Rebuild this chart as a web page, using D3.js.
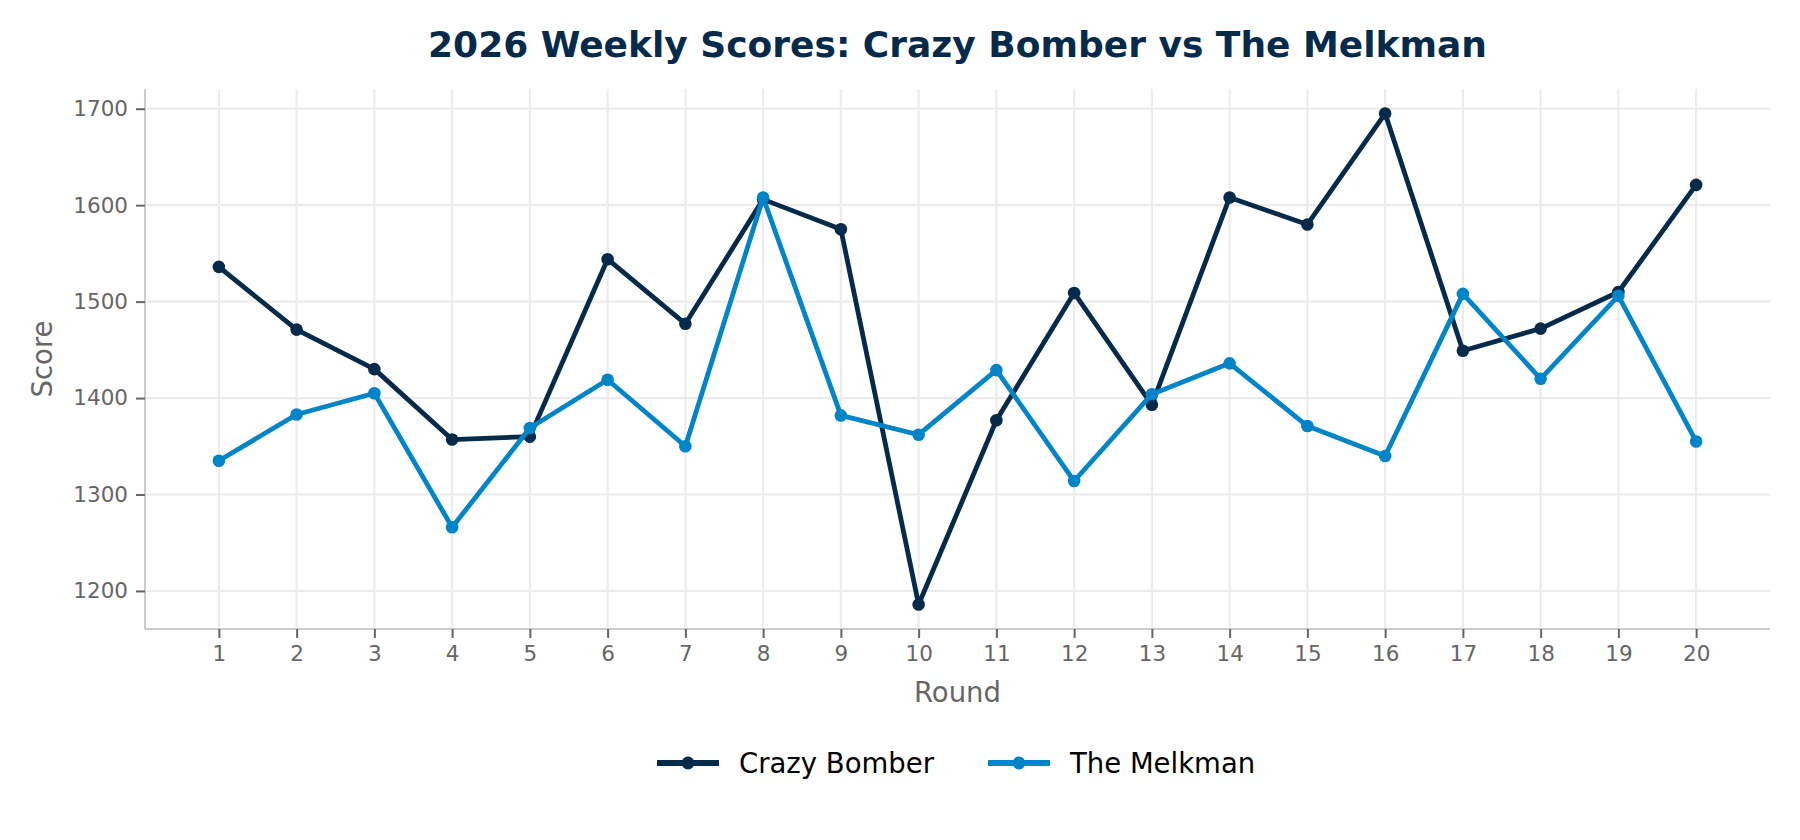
<!DOCTYPE html>
<html>
<head>
<meta charset="utf-8">
<script src="https://cdn.jsdelivr.net/npm/d3@7"></script>
<style>
  body { margin: 0; background: #fff; }
  text { font-family: "DejaVu Sans", sans-serif; }
</style>
</head>
<body>
<div id="chart"></div>
<script>
const rounds = [1,2,3,4,5,6,7,8,9,10,11,12,13,14,15,16,17,18,19,20];
const crazyBomber = [1536,1471,1430,1357,1360,1544,1477,1606,1575,1186,1377,1509,1393,1608,1580,1695,1449,1472,1510,1621];
const theMelkman = [1335,1383,1405,1266,1369,1419,1350,1608,1382,1362,1429,1314,1404,1436,1371,1340,1508,1420,1506,1355];
const yTicks = [1200,1300,1400,1500,1600,1700];
const seriesNames = ["Crazy Bomber", "The Melkman"];
const seriesColors = ["#062a4a", "#0284c9"];

const width = 1800, height = 840;
const plotL = 145, plotR = 1770, plotT = 89, plotB = 629;

var svg = d3.select("#chart").append("svg")
  .attr("width", width).attr("height", height);

var x = d3.scaleLinear().domain([0.05, 20.95]).range([plotL, plotR]);
var ymin = d3.min(crazyBomber.concat(theMelkman)), ymax = d3.max(crazyBomber.concat(theMelkman));
var pad = (ymax - ymin) * 0.05;
var y = d3.scaleLinear().domain([ymin - pad, ymax + pad]).range([plotB, plotT]);

// grid
svg.append("g").selectAll("line").data(rounds).enter().append("line")
  .attr("x1", d => x(d)).attr("x2", d => x(d))
  .attr("y1", plotT).attr("y2", plotB)
  .attr("stroke", "#ececec").attr("stroke-width", 2.2);
svg.append("g").selectAll("line").data(yTicks).enter().append("line")
  .attr("x1", plotL).attr("x2", plotR)
  .attr("y1", d => y(d)).attr("y2", d => y(d))
  .attr("stroke", "#ececec").attr("stroke-width", 2.2);

// axes
var xAxis = svg.append("g").attr("transform", "translate(0," + plotB + ")")
  .call(d3.axisBottom(x).tickValues(rounds).tickFormat(d3.format("d")).tickSize(9).tickPadding(8));
var yAxis = svg.append("g").attr("transform", "translate(" + plotL + ",0)")
  .call(d3.axisLeft(y).tickValues(yTicks).tickFormat(d3.format("d")).tickSize(9).tickPadding(8));
[xAxis, yAxis].forEach(function(a) {
  a.select(".domain").attr("stroke", "#cccccc").attr("stroke-width", 2);
  a.selectAll(".tick line").attr("stroke", "#666").attr("stroke-width", 2);
  a.selectAll(".tick text").attr("fill", "#666").style("font-size", "21.5px")
    .style("font-family", "DejaVu Sans");
});
// plain spines, no outer ticks
xAxis.select(".domain").attr("d", "M" + plotL + ",0H" + plotR);
yAxis.select(".domain").attr("d", "M0," + plotT + "V" + plotB);

// titles
svg.append("text").attr("x", (plotL + plotR) / 2).attr("y", 57)
  .attr("text-anchor", "middle").attr("font-weight", "bold")
  .attr("font-size", 36).attr("fill", "#062a4a")
  .text("2026 Weekly Scores: Crazy Bomber vs The Melkman");
svg.append("text").attr("x", (plotL + plotR) / 2).attr("y", 702)
  .attr("text-anchor", "middle").attr("font-size", 27.5).attr("fill", "#666")
  .text("Round");
svg.append("text").attr("transform", "translate(52," + (plotT + plotB) / 2 + ") rotate(-90)")
  .attr("text-anchor", "middle").attr("font-size", 27.5).attr("fill", "#666")
  .text("Score");

// series
var allSeries = [crazyBomber, theMelkman];
var line = d3.line().x((d, i) => x(rounds[i])).y(d => y(d));
allSeries.forEach(function(vals, k) {
  var g = svg.append("g");
  g.append("path").datum(vals).attr("d", line)
    .attr("fill", "none").attr("stroke", seriesColors[k]).attr("stroke-width", 4.8)
    .attr("stroke-linejoin", "round");
  g.selectAll("circle").data(vals).enter().append("circle")
    .attr("cx", (d, i) => x(rounds[i])).attr("cy", d => y(d))
    .attr("r", 6.3).attr("fill", seriesColors[k]);
});

// legend
var legendX = [657, 988];
var leg = svg.append("g").selectAll("g").data(seriesNames).enter().append("g")
  .attr("transform", (d, i) => "translate(" + legendX[i] + ",763)");
leg.append("line").attr("x1", 0).attr("x2", 62)
  .attr("stroke", (d, i) => seriesColors[i]).attr("stroke-width", 6);
leg.append("circle").attr("cx", 31).attr("r", 6.5)
  .attr("fill", (d, i) => seriesColors[i]);
leg.append("text").attr("x", 82).attr("dy", "0.35em")
  .attr("font-size", 27.5).attr("fill", "#000").text(d => d);
</script>
</body>
</html>
